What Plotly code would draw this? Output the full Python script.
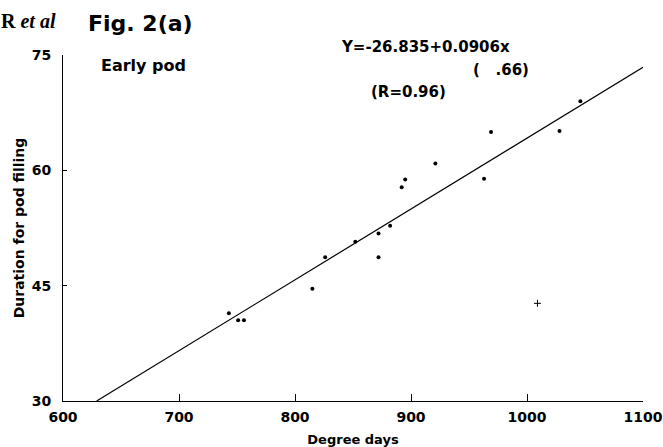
import plotly.graph_objects as go

# Data
degree_days = [743, 751, 756, 815, 826, 852, 872, 872, 882, 892, 895, 921, 963, 969, 1028, 1046]
duration = [41.4, 40.5, 40.5, 44.6, 48.7, 50.7, 51.8, 48.7, 52.8, 57.8, 58.8, 60.9, 58.9, 65.0, 65.1, 69.0]
outlier_x = [1009]
outlier_y = [42.7]

# Regression line Y = -26.835 + 0.0906x, end points
fit_x = [629, 1100]
fit_y = [30, 73.4]

x_ticks = [600, 700, 800, 900, 1000, 1100]
y_ticks = [30, 45, 60, 75]

FONT = "DejaVu Sans, Liberation Sans, Arial, sans-serif"
W, H = 663, 447
ML, MR, MT, MB = 63, 20, 55, 46
PW, PH = W - ML - MR, H - MT - MB


def px(x):
    return (x - ML) / PW


def py(y):
    return (H - MB - y) / PH


fig = go.Figure()
fig.add_trace(go.Scatter(x=fit_x, y=fit_y, mode="lines",
                         line=dict(color="black", width=1.2), showlegend=False))
fig.add_trace(go.Scatter(x=degree_days, y=duration, mode="markers",
                         marker=dict(color="black", size=4), showlegend=False))
fig.add_trace(go.Scatter(x=outlier_x, y=outlier_y, mode="markers",
                         marker=dict(color="black", size=5, symbol="cross-thin",
                                     line=dict(color="black", width=1)), showlegend=False))

bold = dict(family=FONT, weight="bold", color="black")

fig.update_layout(
    width=W, height=H,
    margin=dict(l=ML, r=MR, t=MT, b=MB, autoexpand=False),
    paper_bgcolor="white", plot_bgcolor="white",
    font=dict(family=FONT, color="black"),
    xaxis=dict(range=[600, 1100], tickvals=x_ticks, ticks="inside", ticklen=7,
               tickcolor="black", showline=True, linecolor="black", linewidth=1,
               showgrid=False, zeroline=False, automargin=False,
               tickfont=dict(size=14, **bold), ticklabelstandoff=3,
               title=dict(text="Degree days", font=dict(size=13, **bold), standoff=12)),
    yaxis=dict(range=[30, 75], tickvals=y_ticks, ticks="inside", ticklen=4,
               tickcolor="black", showline=True, linecolor="black", linewidth=1,
               showgrid=False, zeroline=False, automargin=False,
               tickfont=dict(size=14, **bold), ticklabelstandoff=8,
               title=dict(text="Duration for pod filling",
                          font=dict(size=14, **bold), standoff=3)),
    annotations=[
        dict(text="<b>R</b> <b><i>et al</i></b>", x=px(-1), y=py(21), xanchor="left",
             font=dict(family="Liberation Serif, Times New Roman, serif", size=20, color="black")),
        dict(text="Fig. 2(a)", x=px(86), y=py(24), xanchor="left",
             font=dict(size=22, **bold)),
        dict(text="Early pod", x=px(99), y=py(65), xanchor="left",
             font=dict(size=16, **bold)),
        dict(text="Y=-26.835+0.0906x", x=px(339), y=py(47), xanchor="left",
             font=dict(size=15, **bold)),
        dict(text="(   .66)", x=px(531), y=py(70), xanchor="right",
             font=dict(size=15, **bold)),
        dict(text="(R=0.96)", x=px(369), y=py(92), xanchor="left",
             font=dict(size=15, **bold)),
    ],
)
for a in fig.layout.annotations:
    a.xref = "paper"
    a.yref = "paper"
    a.showarrow = False
    a.yanchor = "middle"

fig.write_html("out.html",
               config={"displayModeBar": False},
               post_script="document.body.style.margin='0px';document.body.style.overflow='hidden';")
